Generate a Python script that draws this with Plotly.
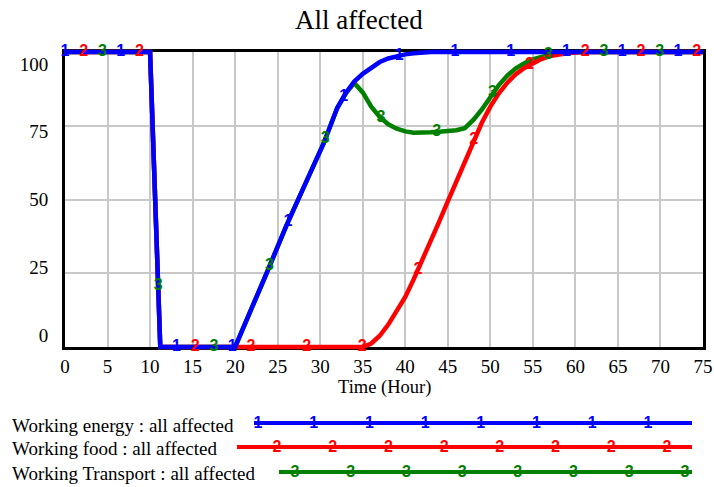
import numpy as np
import plotly.graph_objects as go

# ---------------- data ----------------
title_text = "All affected"
x_title = "Time (Hour)"
x_ticks = list(range(0, 80, 5))
y_ticks = [0, 25, 50, 75, 100]

series_names = ["Working energy : all affected",
                "Working food : all affected",
                "Working Transport : all affected"]
series_ids = ["1", "2", "3"]
series_colors = ["#0000FF", "#FF0000", "#008000"]

time_energy = [0, 10, 11.2, 20, 23.7, 26, 30.4, 32, 33, 34, 35, 36, 37, 38, 39,
               40, 41, 42, 43, 75]
energy = [100, 100, 0, 0, 25, 41, 69, 81, 86, 90, 92.6, 94.8, 96.6, 97.8, 98.6,
          99.2, 99.6, 99.85, 100, 100]

time_food = [0, 10, 11.2, 35, 36, 37, 38, 39, 40, 41, 42, 43, 44, 45, 46, 47, 48,
             49, 50, 51, 52, 53, 54, 55, 56, 57, 58, 59, 60, 61, 75]
food = [100, 100, 0, 0, 1.2, 3.8, 7.6, 12, 17, 23, 29.3, 36, 42.6, 49.4, 56.1,
        62.9, 69.7, 76, 81.5, 86, 89.6, 92.5, 94.6, 96.2, 97.6, 98.6, 99.2, 99.6,
        99.85, 100, 100]

time_transport = [0, 10, 11.2, 20, 23.7, 26, 30.4, 32, 33, 34, 35, 36, 37, 38,
                  39, 40, 41, 42, 43, 44, 45, 46, 47, 48, 49, 50, 51, 52, 53, 54,
                  55, 56, 57, 58, 59, 60, 75]
transport = [100, 100, 0, 0, 25, 41, 69, 81, 86, 89.5, 86.3, 81.5, 78, 75.5, 74,
             73.1, 72.6, 72.6, 72.8, 73, 73.2, 73.5, 74.2, 77, 80.5, 85, 88.8, 92,
             94.5, 96.2, 97.5, 98.3, 99, 99.5, 99.8, 100, 100]

# numbered-marker placement along the curves (hours)
marker_start = [0.0, 2.2, 4.4]
marker_step = 6.55

# ---------------- geometry ----------------
W, H = 714, 487
FX0, FX1 = 65, 703      # pixel x of t=0 and t=75
FY0, FY1 = 347, 52      # pixel y of v=0 and v=100
LY0, LY100 = 335, 64    # pixel y of the (Vensim-style) tick labels 0 and 100
XMAX, YMAX = 75, 100
FONT = "Liberation Serif"
MFONT = "Liberation Sans"
MSIZE = 16


def pxx(x):
    return x / W


def pxy(y):
    return (H - y) / H


kx = (FX1 - FX0) / XMAX
ky = (FY0 - FY1) / YMAX
xpad, ypad = 1.0, 2.0
k3 = (LY0 - LY100) / YMAX
y3_range = [-(FY0 - LY0) / k3, YMAX + (LY100 - FY1) / k3]

fig = go.Figure()

# invisible traces so the frame subplot and the label axis exist
fig.add_trace(go.Scatter(x=[None], y=[None], xaxis="x", yaxis="y",
                         showlegend=False, hoverinfo="skip"))
fig.add_trace(go.Scatter(x=[None], y=[None], xaxis="x", yaxis="y3",
                         showlegend=False, hoverinfo="skip"))

times = [time_energy, time_food, time_transport]
vals = [energy, food, transport]

# lines (transport, food, energy so energy is on top)
for i in [2, 1, 0]:
    fig.add_trace(go.Scatter(x=times[i], y=vals[i], mode="lines",
                             line=dict(color=series_colors[i], width=4.5),
                             xaxis="x2", yaxis="y2", showlegend=False,
                             hoverinfo="skip"))
# numbered markers
for i in range(3):
    mt = np.arange(marker_start[i], XMAX + 1e-9, marker_step)
    mv = np.interp(mt, times[i], vals[i])
    fig.add_trace(go.Scatter(x=mt, y=mv, mode="text",
                             text=[series_ids[i]] * len(mt),
                             textposition="middle center",
                             textfont=dict(family=MFONT, size=MSIZE,
                                           color=series_colors[i], weight="bold"),
                             cliponaxis=False, xaxis="x2", yaxis="y2",
                             showlegend=False, hoverinfo="skip"))

# ---------------- custom legend (pixel coordinates) ----------------
leg_text_y = [425, 448, 473]
leg_line_y = [423, 447, 472]
leg_line_x0 = [254, 237, 279]
leg_line_x1 = 692
leg_mark_x0 = [258, 277, 295]
leg_mark_step = 55.7
for i in range(3):
    fig.add_trace(go.Scatter(x=[leg_line_x0[i], leg_line_x1],
                             y=[leg_line_y[i], leg_line_y[i]], mode="lines",
                             line=dict(color=series_colors[i], width=4),
                             xaxis="x4", yaxis="y4", showlegend=False,
                             hoverinfo="skip"))
    mx = leg_mark_x0[i] + leg_mark_step * np.arange(8)
    fig.add_trace(go.Scatter(x=mx, y=[leg_line_y[i] + 1] * len(mx), mode="text",
                             text=[series_ids[i]] * len(mx),
                             textposition="middle center",
                             textfont=dict(family=MFONT, size=MSIZE,
                                           color=series_colors[i], weight="bold"),
                             cliponaxis=False, xaxis="x4", yaxis="y4",
                             showlegend=False, hoverinfo="skip"))

annotations = [
    dict(text=title_text, x=pxx(358.5), y=pxy(20), xref="paper", yref="paper",
         xanchor="center", yanchor="middle", showarrow=False,
         font=dict(family=FONT, size=27, color="black")),
    dict(text=x_title, x=pxx(384), y=pxy(387), xref="paper", yref="paper",
         xanchor="center", yanchor="middle", showarrow=False,
         font=dict(family=FONT, size=18.5, color="black")),
]
for i in range(3):
    annotations.append(dict(text=series_names[i], x=pxx(10), y=pxy(leg_text_y[i]),
                            xref="paper", yref="paper", xanchor="left",
                            yanchor="middle", showarrow=False,
                            font=dict(family=FONT, size=19, color="black")))

grid = dict(showgrid=True, gridcolor="rgb(200,200,200)", gridwidth=1.5)
frame = dict(showline=True, mirror=True, linecolor="black", linewidth=3,
             zeroline=False)

fig.update_layout(
    width=W, height=H,
    margin=dict(l=0, r=0, t=0, b=0, pad=0, autoexpand=False),
    paper_bgcolor="white", plot_bgcolor="rgba(0,0,0,0)",
    showlegend=False,
    annotations=annotations,
    xaxis=dict(domain=[pxx(FX0), pxx(FX1)], range=[0, XMAX], anchor="y",
               automargin=False,
               tickvals=x_ticks, ticktext=[str(v) for v in x_ticks],
               ticks="",
               tickfont=dict(family=FONT, size=19, color="black"),
               **grid, **frame),
    yaxis=dict(domain=[pxy(FY0), pxy(FY1)], range=[0, YMAX], anchor="x",
               automargin=False,
               tickvals=y_ticks, showticklabels=False, ticks="",
               **grid, **frame),
    yaxis3=dict(overlaying="y", anchor="x", side="left", range=y3_range,
                automargin=False,
                tickvals=y_ticks, ticktext=[str(v) for v in y_ticks],
                showgrid=False, showline=False, zeroline=False,
                ticks="outside", ticklen=12, tickcolor="rgba(0,0,0,0)",
                tickfont=dict(family=FONT, size=19, color="black")),
    xaxis2=dict(domain=[pxx(FX0 - xpad * kx), pxx(FX1 + xpad * kx)],
                range=[-xpad, XMAX + xpad], anchor="y2", visible=False,
                automargin=False),
    yaxis2=dict(domain=[pxy(FY0 + ypad * ky), pxy(FY1 - ypad * ky)],
                range=[-ypad, YMAX + ypad], anchor="x2", visible=False,
                automargin=False),
    xaxis4=dict(domain=[0, 1], range=[0, W], anchor="y4", visible=False,
                automargin=False),
    yaxis4=dict(domain=[0, 1], range=[H, 0], anchor="x4", visible=False,
                automargin=False),
)

fig.write_html("out.html")
